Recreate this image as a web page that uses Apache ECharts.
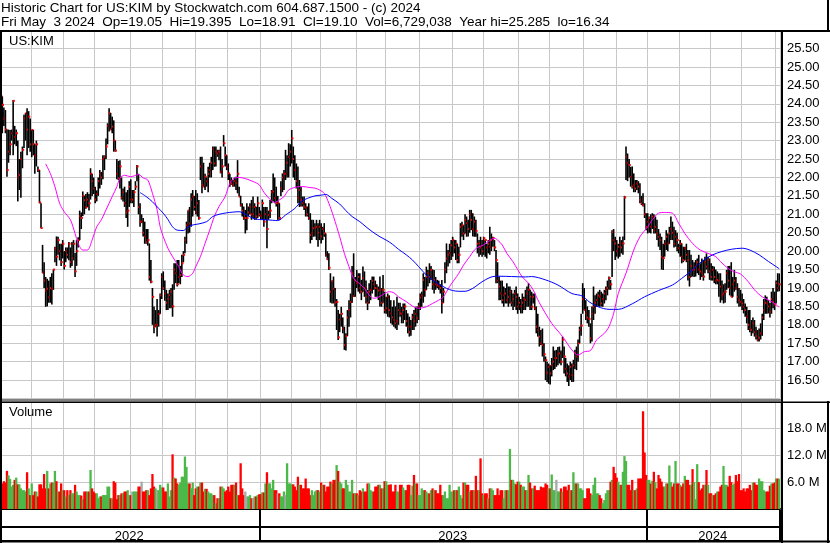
<!DOCTYPE html>
<html>
<head>
<meta charset="utf-8">
<script src="https://cdn.jsdelivr.net/npm/echarts@6/dist/echarts.min.js"></script>
<style>
  html, body { margin: 0; padding: 0; background: #fff; }
  #chart { width: 830px; height: 543px; }
</style>
</head>
<body>
<div id="chart"></div>
<script>
// trading months shown and number of sessions in each
const monthKeys = ["2022-05","2022-06","2022-07","2022-08","2022-09","2022-10","2022-11","2022-12",
  "2023-01","2023-02","2023-03","2023-04","2023-05","2023-06","2023-07","2023-08","2023-09","2023-10","2023-11","2023-12",
  "2024-01","2024-02","2024-03","2024-04","2024-05"];
const monthDays = [20,21,20,23,21,21,21,21, 20,19,23,19,22,21,20,23,20,22,21,20, 21,20,20,22,3];

const high = [
  24.28,24.2,23.9,23.83,23.3,23.3,23.29,23.3,24.1,23.4,
  23.3,23.0,22.5,22.7,22.84,23.7,23.75,23.88,23.8,23.6,
  23.3,23.29,22.9,23.0,22.3,22.2,21.3,20.17,19.7,19.3,
  19.25,19.2,19.3,19.4,19.5,20.12,20.4,20.39,20.2,20.2,
  20.3,20.0,20.1,20.1,20.25,20.1,20.25,20.3,19.95,20.3,
  20.38,21.1,21.05,21.62,21.5,21.55,21.6,21.55,22.25,22.1,
  22.0,21.75,21.65,22.0,22.2,22.15,22.6,22.6,23.06,23.47,
  23.88,23.75,23.65,23.55,23.0,22.5,22.45,22.47,22.0,21.7,
  21.75,21.6,21.66,21.9,21.95,21.66,21.66,21.9,22.34,22.1,
  21.3,21.0,20.9,20.8,20.6,20.6,20.21,19.76,19.0,18.5,
  18.4,18.7,18.4,18.85,19.4,19.45,19.2,18.95,18.85,18.95,
  19.0,19.1,19.67,19.67,19.76,19.76,19.6,19.9,20.0,20.39,
  20.8,21.1,21.2,21.57,21.66,21.5,21.66,21.57,21.39,22.56,
  22.56,22.4,22.1,22.0,22.29,22.4,22.56,22.84,22.84,22.84,
  22.75,22.75,22.84,22.5,23.15,22.84,22.6,22.38,22.1,22.0,
  21.93,22.0,22.02,22.47,21.75,21.5,21.3,21.21,21.12,21.3,
  21.21,21.3,21.39,21.48,21.3,21.2,21.48,21.2,21.1,21.4,
  21.2,21.2,21.2,21.1,21.39,21.66,22.11,22.0,21.75,21.5,
  21.3,21.9,22.11,22.2,22.75,22.6,22.93,22.9,23.29,22.84,
  22.6,22.38,22.3,21.93,21.75,21.48,21.48,21.3,21.21,21.3,
  21.03,20.85,20.85,20.76,20.85,20.76,20.85,20.76,20.66,20.76,
  20.48,20.0,19.94,19.4,19.2,19.31,19.0,18.7,18.4,18.3,
  18.49,18.2,17.95,17.77,18.4,18.67,18.85,19.6,19.94,19.3,
  19.49,19.4,19.4,19.22,19.58,19.45,19.2,18.95,19.13,19.22,
  19.31,19.31,19.2,19.1,19.04,19.31,19.0,19.35,18.9,18.76,
  18.85,18.8,18.67,18.49,18.67,18.5,18.76,18.6,18.6,18.49,
  18.58,18.58,18.4,18.31,18.22,18.13,18.3,18.4,18.49,18.5,
  18.6,18.85,18.9,19.4,19.3,19.58,19.49,19.67,19.6,19.5,
  19.49,19.3,19.22,19.2,19.1,19.22,19.0,19.7,20.21,20.03,
  20.2,20.3,20.39,20.3,20.3,20.2,20.12,20.76,20.8,20.7,
  21.0,20.94,20.85,21.12,21.12,21.03,20.94,20.85,20.48,20.3,
  20.39,20.3,20.39,20.3,20.2,20.3,20.66,20.48,20.39,20.3,
  20.03,19.7,19.31,19.2,19.2,19.04,19.0,19.13,19.04,19.04,
  18.95,18.85,18.95,19.04,18.85,18.76,18.7,18.85,18.76,18.95,
  19.04,19.13,18.95,18.9,18.85,18.85,18.5,18.3,17.95,17.86,
  17.9,17.5,17.14,17.0,16.95,16.9,17.1,17.41,17.3,17.32,
  17.4,17.41,17.3,17.68,17.41,17.1,16.95,16.9,17.0,16.95,
  17.05,17.32,17.41,17.6,17.95,18.3,19.13,19.0,18.67,18.5,
  18.4,18.04,18.5,19.04,18.8,18.85,18.9,18.95,18.9,18.85,
  18.95,19.04,19.2,19.31,19.22,20.57,20.6,20.39,20.3,20.2,
  20.39,20.3,20.4,21.5,22.84,22.65,22.5,22.29,22.3,22.11,
  21.93,21.93,21.9,21.84,21.5,21.57,21.3,21.03,21.03,20.94,
  21.0,21.03,21.0,20.94,20.85,20.6,20.48,20.39,20.2,20.3,
  20.57,20.48,20.66,20.94,20.8,20.66,20.57,20.5,20.2,20.3,
  20.21,20.12,20.12,20.2,20.03,20.03,19.9,19.76,19.7,19.76,
  19.8,19.9,19.67,19.8,19.76,19.85,19.94,19.85,19.8,19.67,
  19.6,19.58,19.5,19.45,19.4,19.4,19.2,19.1,19.13,19.49,
  19.6,19.6,19.7,19.3,19.49,19.3,19.13,19.0,18.95,18.85,
  18.7,18.58,18.49,18.4,18.4,18.13,18.2,18.13,17.95,17.86,
  17.9,18.04,18.3,18.7,18.8,18.76,18.67,18.6,18.9,19.0,
  18.9,19.2,19.4,19.395
];
const low = [
  22.74,23.2,23.4,23.2,22.02,22.4,22.6,23.0,22.6,22.9,
  22.85,21.35,21.66,21.45,22.25,22.8,23.0,22.6,22.8,22.7,
  22.55,22.6,22.1,22.3,22.15,21.3,20.62,19.4,19.0,18.49,
  18.5,18.6,18.6,18.55,18.95,19.7,19.6,19.9,19.75,19.6,
  19.8,19.5,19.7,19.8,19.75,19.55,19.6,19.75,19.3,19.6,
  20.1,20.3,20.6,20.95,21.0,21.15,21.2,21.1,21.4,21.5,
  21.55,21.3,21.35,21.5,21.7,21.8,21.95,22.2,22.5,22.9,
  23.25,23.3,23.2,22.7,22.7,21.95,21.93,21.7,21.4,21.35,
  21.2,20.9,20.66,21.2,21.3,21.3,21.2,21.66,21.9,21.0,
  20.66,20.76,20.4,20.2,20.2,20.15,19.2,19.13,18.0,17.77,
  17.95,17.68,17.95,18.3,18.7,18.95,18.65,18.4,18.4,18.45,
  18.45,18.22,18.95,19.13,19.04,19.13,19.1,19.3,19.7,19.94,
  20.2,20.48,20.5,20.66,20.94,21.1,21.0,20.94,20.85,21.93,
  21.57,21.75,21.66,21.75,21.6,22.0,22.0,22.2,22.29,22.3,
  22.56,22.47,22.11,22.0,22.84,22.3,22.2,21.93,21.75,21.8,
  21.75,21.75,21.66,21.57,21.48,21.21,20.94,20.85,20.48,20.57,
  20.94,21.0,20.85,20.9,20.85,20.85,20.9,20.94,20.85,20.85,
  20.66,20.85,20.08,20.85,20.9,21.3,21.35,21.3,21.21,20.85,
  20.85,21.5,21.6,21.66,21.93,22.0,22.0,22.3,22.38,22.0,
  21.93,21.7,21.3,21.2,21.21,21.21,21.12,20.94,20.94,20.85,
  20.21,20.3,20.39,20.4,20.3,20.12,20.3,20.21,20.3,20.39,
  19.85,19.76,19.49,18.6,18.58,18.58,18.49,17.86,17.59,17.8,
  17.95,17.77,17.32,17.3,17.7,17.95,18.2,18.6,18.76,18.76,
  19.0,18.9,18.85,18.67,18.9,18.76,18.58,18.4,18.58,18.67,
  18.85,18.95,18.76,18.76,18.67,18.5,18.49,18.6,18.31,18.3,
  18.22,18.2,18.04,18.0,17.95,17.9,17.86,18.0,18.22,18.04,
  18.04,18.13,17.95,17.77,17.68,17.7,17.86,17.86,17.95,18.04,
  18.13,18.4,18.49,18.6,18.76,18.95,19.04,19.13,19.22,18.95,
  18.85,18.95,19.0,18.95,18.85,18.31,18.6,19.13,19.4,19.58,
  19.67,19.76,19.85,19.94,19.76,19.67,19.67,20.1,20.39,20.3,
  20.48,20.39,20.4,20.5,20.57,20.4,20.39,20.39,19.94,19.85,
  19.9,19.85,19.9,19.85,19.8,19.94,19.9,20.0,20.12,20.0,
  19.13,19.13,18.67,18.67,18.58,18.49,18.58,18.58,18.49,18.58,
  18.5,18.4,18.49,18.4,18.3,18.4,18.31,18.31,18.4,18.4,
  18.49,18.49,18.4,18.4,18.58,18.4,17.77,17.68,17.41,17.45,
  17.14,17.0,16.5,16.45,16.4,16.38,16.6,16.77,16.8,16.86,
  16.9,16.95,16.9,17.1,16.68,16.6,16.45,16.34,16.5,16.45,
  16.45,16.8,16.77,17.0,17.5,17.7,18.3,18.4,18.13,18.04,
  17.95,17.5,17.55,18.13,18.3,18.49,18.5,18.49,18.5,18.49,
  18.58,18.67,18.8,18.95,18.95,19.3,20.0,19.76,19.85,19.8,
  19.85,19.94,19.9,20.3,21.93,21.9,22.0,21.75,21.7,21.6,
  21.6,21.66,21.57,21.3,21.25,21.21,20.9,20.57,20.48,20.5,
  20.48,20.6,20.48,20.48,20.3,20.12,20.03,19.5,19.49,19.85,
  20.03,20.0,20.2,20.3,20.3,20.1,20.12,20.0,19.94,19.85,
  19.67,19.7,19.76,19.7,19.2,19.04,19.3,19.31,19.3,19.31,
  19.4,19.35,19.22,19.3,19.2,19.4,19.5,19.4,19.22,19.2,
  19.2,19.13,19.1,19.1,18.76,18.6,18.67,18.58,18.6,18.95,
  19.0,18.8,18.76,18.76,18.9,18.95,18.58,18.49,18.5,18.4,
  18.31,18.22,18.04,17.86,17.8,17.7,17.77,17.68,17.6,17.55,
  17.55,17.6,17.7,18.13,18.3,18.3,18.31,18.2,18.3,18.45,
  18.4,18.58,18.9,18.91
];
const close = [
  24.2,23.97,23.6,23.3,22.2,22.7,22.9,23.2,24.08,23.1,
  23.2,22.0,22.07,22.5,22.75,23.6,23.74,23.3,23.65,22.9,
  23.29,22.9,22.6,22.9,22.2,21.32,20.63,19.42,19.2,18.93,
  18.98,18.75,19.0,18.98,19.5,20.07,19.85,20.3,20.0,19.7,
  20.2,19.6,20.0,19.9,20.2,19.7,19.8,20.2,19.45,20.0,
  20.3,20.95,20.9,21.5,21.38,21.2,21.4,21.3,22.1,21.9,
  21.7,21.4,21.55,21.9,22.1,22.0,22.5,22.56,22.84,23.4,
  23.74,23.3,23.38,23.0,22.73,22.1,21.98,22.3,21.45,21.6,
  21.3,21.05,21.1,21.75,21.4,21.4,21.6,21.75,22.3,21.2,
  20.8,20.8,20.5,20.4,20.24,20.3,19.3,19.17,18.76,17.95,
  18.0,18.0,18.3,18.8,19.3,19.0,18.85,18.6,18.7,18.8,
  18.9,18.5,19.5,19.4,19.1,19.3,19.35,19.67,19.9,20.3,
  20.7,21.1,20.75,21.4,21.48,21.2,21.05,21.3,20.9,22.3,
  21.8,21.75,22.02,21.9,22.1,22.2,22.4,22.78,22.38,22.7,
  22.65,22.7,22.15,22.3,22.93,22.6,22.3,22.11,21.9,21.84,
  21.8,21.9,21.85,22.1,21.48,21.25,21.1,20.9,20.9,20.9,
  21.05,21.2,21.0,21.0,21.2,20.94,21.3,21.0,20.96,21.3,
  20.8,21.0,20.6,20.98,21.1,21.6,21.62,21.44,21.3,21.3,
  20.9,21.7,22.0,22.1,22.1,22.4,22.56,22.7,23.06,22.5,
  22.2,21.9,21.45,21.66,21.39,21.3,21.21,21.18,21.0,20.9,
  20.44,20.5,20.62,20.64,20.66,20.5,20.66,20.4,20.6,20.48,
  19.9,19.78,19.55,18.9,19.18,18.98,18.6,18.62,17.66,18.14,
  18.3,17.9,17.45,17.7,18.2,18.4,18.62,19.4,18.78,19.2,
  19.13,19.3,19.0,18.9,19.27,19.0,18.76,18.6,18.9,18.95,
  19.2,19.1,19.0,18.99,18.93,18.95,18.6,18.95,18.4,18.45,
  18.76,18.4,18.31,18.2,18.13,18.04,18.1,18.4,18.31,18.3,
  18.4,18.5,18.1,17.95,17.8,17.95,18.2,18.1,18.3,18.18,
  18.5,18.74,18.8,19.22,18.95,19.31,19.4,19.3,19.49,19.1,
  19.22,19.1,19.07,19.04,19.0,18.6,18.9,19.5,19.8,19.9,
  19.95,20.16,20.3,20.1,20.2,19.76,19.9,20.66,20.7,20.48,
  20.85,20.76,20.6,21.0,20.85,20.6,20.8,20.55,20.2,20.21,
  20.1,20.0,20.35,20.3,20.1,20.2,20.12,20.3,20.35,20.1,
  19.76,19.2,19.04,18.85,18.67,18.8,18.85,18.67,18.76,18.9,
  18.6,18.7,18.85,18.76,18.5,18.6,18.5,18.6,18.7,18.67,
  18.85,18.95,18.76,18.49,18.76,18.45,17.95,17.86,17.68,17.5,
  17.45,17.2,17.04,16.7,16.86,16.68,16.9,17.0,17.1,17.1,
  17.2,17.23,17.0,17.6,17.14,16.8,16.68,16.6,16.86,16.64,
  16.9,17.23,17.14,17.5,17.86,17.98,18.7,18.4,18.31,18.2,
  18.16,17.63,18.3,18.49,18.6,18.67,18.8,18.76,18.58,18.7,
  18.85,18.95,19.0,19.27,19.1,20.52,20.3,20.21,20.0,20.12,
  20.21,20.1,20.21,21.46,22.56,22.4,22.34,22.02,21.75,21.8,
  21.7,21.84,21.75,21.39,21.3,21.25,21.0,20.66,20.8,20.9,
  20.66,20.94,20.57,20.66,20.48,20.39,20.3,19.85,19.81,20.2,
  20.39,20.21,20.48,20.6,20.5,20.2,20.39,20.3,20.08,20.2,
  19.85,19.76,20.08,19.9,19.76,19.3,19.6,19.49,19.5,19.58,
  19.7,19.5,19.45,19.4,19.31,19.7,19.58,19.76,19.45,19.3,
  19.49,19.3,19.2,19.22,19.2,19.04,18.8,18.85,18.9,19.4,
  19.2,19.0,18.76,19.1,19.2,19.0,18.76,18.67,18.62,18.58,
  18.49,18.4,18.22,18.0,17.9,17.86,18.04,17.8,17.7,17.59,
  17.65,17.77,18.2,18.4,18.6,18.58,18.5,18.35,18.7,18.62,
  18.55,19.13,19.0,19.10
];
// volume in millions of shares
const volume = [
  5.7,5.7,6.2,5.9,8.5,7.5,6.7,5.0,5.4,6.5,
  7.0,5.5,5.5,4.6,4.2,4.2,3.9,8.2,4.6,3.1,
  5.7,3.1,3.9,3.9,2.8,5.5,5.5,4.6,7.8,4.6,
  8.5,4.6,5.7,5.9,5.9,8.5,6.2,3.9,3.9,5.7,
  4.2,4.2,2.8,4.2,3.1,4.2,3.5,3.5,5.4,3.9,
  3.1,3.1,3.0,2.2,3.9,3.9,3.9,3.9,8.7,4.6,
  3.9,3.5,3.5,2.4,2.8,2.8,3.1,3.1,3.1,5.0,
  5.0,2.4,2.4,6.2,5.9,2.2,3.1,3.1,3.5,3.5,
  3.9,3.9,4.2,3.1,3.1,3.9,3.9,3.9,3.9,5.0,
  5.0,6.1,3.9,3.9,4.2,4.2,3.1,4.6,7.8,5.0,
  4.6,4.2,4.2,5.4,4.8,4.8,3.9,3.9,5.7,2.8,
  4.2,12.2,7.0,6.8,5.7,5.4,5.9,7.2,7.2,11.7,
  9.4,5.7,5.7,4.6,5.9,3.1,4.6,5.0,5.0,5.9,
  5.9,3.9,4.5,4.5,3.9,3.5,3.5,3.1,3.1,1.3,
  2.4,2.4,5.0,5.0,4.6,3.9,4.2,5.0,3.9,5.4,
  5.4,5.4,5.9,3.1,3.1,10.2,4.6,3.1,3.9,2.8,
  2.8,3.1,2.4,2.4,2.8,2.8,3.1,3.3,3.3,3.7,
  3.7,5.7,8.2,5.7,5.7,4.6,6.5,4.2,4.2,3.5,
  3.5,2.8,2.8,3.9,3.1,10.2,5.7,5.7,5.5,5.5,
  5.0,4.2,7.2,5.4,5.4,4.6,4.6,6.8,4.6,4.6,
  3.1,4.2,3.1,3.9,4.2,4.2,3.9,5.9,5.4,5.4,
  3.9,5.0,5.0,6.1,5.7,6.5,6.5,9.8,8.5,6.1,
  5.7,4.6,4.6,6.5,5.4,3.9,3.9,6.5,3.5,3.5,
  3.5,3.1,4.2,3.9,4.6,3.9,3.9,5.7,5.7,4.2,
  3.9,3.9,5.0,5.0,5.4,5.4,4.6,4.6,6.2,6.2,
  5.4,5.4,5.5,3.9,3.9,5.4,3.9,3.9,5.4,5.4,
  4.8,4.2,4.2,5.4,5.4,3.1,5.2,7.6,5.7,5.7,
  3.1,3.1,4.6,4.2,4.2,3.9,3.5,3.5,4.2,4.6,
  4.2,4.2,3.5,3.5,5.4,3.1,3.1,3.9,2.4,2.4,
  5.4,3.9,3.9,4.2,4.2,4.2,5.0,3.1,2.4,5.9,
  5.9,5.4,5.4,3.9,4.2,4.2,4.2,7.4,4.2,4.2,
  11.3,3.5,3.1,3.5,3.5,2.4,4.6,4.6,4.2,3.1,
  3.1,4.6,3.1,4.2,4.2,2.4,4.2,4.2,4.2,13.4,
  6.5,6.5,5.7,5.5,6.1,6.1,5.4,5.0,5.0,4.2,
  4.2,7.6,5.9,4.6,4.6,5.2,4.2,4.2,4.2,5.0,
  4.8,4.8,5.7,5.4,4.6,4.6,7.7,4.2,4.2,6.5,
  3.9,3.9,4.6,3.9,5.0,5.0,4.2,5.4,4.2,4.2,
  8.2,5.7,5.7,5.7,4.6,4.6,4.2,2.4,2.4,4.6,
  4.6,3.5,3.1,5.4,7.0,3.5,3.5,3.1,2.4,1.3,
  2.0,3.5,4.2,4.2,6.1,6.5,9.4,8.0,7.0,6.1,
  5.4,5.4,8.3,11.8,10.7,5.4,5.4,4.2,6.5,4.2,
  4.2,4.6,6.8,6.8,6.8,21.8,12.6,7.6,6.5,6.5,
  5.7,6.3,8.3,6.0,4.6,7.6,6.8,6.1,5.0,5.0,
  5.7,5.7,9.7,6.0,5.0,5.7,10.7,5.7,5.7,5.4,
  5.0,5.7,7.4,6.5,6.5,5.4,5.4,8.9,6.0,2.2,
  10.0,6.0,4.2,4.6,5.4,5.4,8.7,5.4,3.5,3.5,
  3.1,3.1,3.5,3.9,3.9,5.0,5.4,9.6,5.4,5.4,
  5.0,7.4,6.0,5.4,5.7,7.6,6.2,7.8,4.2,4.2,
  4.6,3.9,4.6,4.6,5.4,4.2,5.9,5.9,5.4,5.4,
  6.8,6.2,6.2,4.2,3.9,3.9,3.9,5.2,5.7,5.7,
  5.9,6.8,6.8,6.73
];
// moving average lines: [session index, price]
const maShort = [[29,22.37],[32,22.11],[35,21.75],[38,21.3],[41,21.07],[45,20.85],[48,20.48],[50,20.21],[53,20.03],[56,20.03],
  [59,20.3],[62,20.66],[65,20.85],[68,21.12],[72,21.48],[75,21.75],[77,21.98],[80,22.06],[84,22.02],[89,22.08],
  [92,21.99],[95,21.93],[98,21.57],[101,21.12],[103,20.66],[105,20.39],[108,20.08],[111,19.85],[115,19.58],[118,19.35],
  [121,19.31],[124,19.4],[126,19.58],[129,19.85],[132,20.21],[135,20.57],[138,20.94],[141,21.21],[145,21.48],[148,21.84],
  [151,21.98],[154,22.0],[158,21.97],[163,21.89],[167,21.8],[170,21.6],[174,21.4],[177,21.32],[180,21.39],[183,21.48],
  [186,21.66],[190,21.73],[193,21.75],[196,21.75],[199,21.73],[203,21.71],[206,21.66],[209,21.57],[212,21.3],[215,20.94],
  [219,20.39],[222,19.94],[225,19.58],[228,19.26],[232,19.11],[235,18.99],[238,18.81],[241,18.72],[244,18.75],[248,18.85],
  [251,18.9],[254,18.87],[257,18.76],[262,18.63],[266,18.51],[270,18.45],[275,18.49],[279,18.58],[283,18.67],[286,18.76],
  [290,19.04],[293,19.22],[296,19.4],[299,19.62],[303,19.85],[306,20.03],[309,20.12],[312,20.17],[315,20.26],[319,20.35],
  [321,20.3],[324,20.17],[327,19.94],[331,19.71],[334,19.5],[337,19.3],[341,19.13],[344,18.95],[348,18.6],[356,18.04],
  [363,17.68],[369,17.32],[373,17.18],[377,17.27],[381,17.3],[385,17.59],[390,17.77],[393,17.95],[396,18.31],[399,18.85],
  [404,19.4],[409,20.03],[413,20.39],[418,20.66],[421,20.85],[425,21.03],[429,21.05],[434,21.03],[438,20.76],[442,20.48],
  [447,20.21],[452,20.03],[457,19.94],[462,19.85],[465,19.72],[470,19.53],[474,19.44],[478,19.38],[483,19.17],[487,18.95],
  [492,18.76],[498,18.63],[503,18.48]];
const maLong = [[90,21.59],[94,21.48],[98,21.34],[102,21.16],[105,21.03],[108,20.86],[111,20.66],[114,20.57],[118,20.56],[120,20.62],
  [123,20.7],[128,20.74],[133,20.8],[137,20.94],[141,21.0],[146,21.04],[150,21.06],[154,21.07],[159,20.98],[163,20.89],
  [167,20.86],[172,20.85],[179,20.83],[184,20.98],[190,21.16],[194,21.34],[198,21.43],[203,21.5],[207,21.52],[210,21.54],
  [214,21.43],[219,21.28],[223,21.1],[227,20.94],[232,20.8],[236,20.66],[240,20.53],[245,20.39],[249,20.3],[253,20.19],
  [257,20.05],[262,19.9],[266,19.76],[270,19.58],[275,19.35],[279,19.22],[283,19.11],[288,18.99],[292,18.93],[296,18.91],
  [300,18.91],[305,18.99],[309,19.11],[313,19.22],[318,19.31],[322,19.32],[330,19.31],[339,19.3],[343,19.31],[352,19.22],
  [360,19.08],[369,18.85],[376,18.78],[380,18.63],[386,18.49],[393,18.42],[399,18.42],[408,18.57],[416,18.76],[425,18.93],
  [434,19.08],[440,19.26],[447,19.49],[453,19.72],[460,19.9],[466,19.99],[472,20.05],[479,20.08],[484,20.03],[490,19.9],
  [496,19.72],[501,19.58],[503,19.52]];

const headerLine1 = "Historic Chart for US:KIM by Stockwatch.com 604.687.1500 - (c) 2024";
const headerLine2 = "Fri May  3 2024  Op=19.05  Hi=19.395  Lo=18.91  Cl=19.10  Vol=6,729,038  Year hi=25.285  lo=16.34";

// category list: one entry per session
const dates = [];
const monthStart = new Set();
const yearStart = new Set();
const yearMid = new Set();
monthKeys.forEach((m, k) => {
  if (k > 0) monthStart.add(dates.length);
  if (k > 0 && m.endsWith("-01")) yearStart.add(dates.length);
  for (let d = 0; d < monthDays[k]; d++) dates.push(m + "-" + (d + 1));
});
const bounds = [0, ...yearStart, dates.length];
for (let k = 0; k < bounds.length - 1; k++) yearMid.add(Math.floor((bounds[k] + bounds[k + 1] - 1) / 2));

const FONT = "Liberation Sans, Arial, sans-serif";
const GRID_LINE = "#c8c8c8";

const ohlc = dates.map((d, i) => [i, high[i], low[i], close[i]]);
const volData = volume.map((v, i) => {
  let c = "#4cb848";
  if (i > 0 && close[i] < close[i - 1]) c = "#ff0000";
  else if (i > 0 && close[i] === close[i - 1]) c = "#a8a8a8";
  return { value: v, itemStyle: { color: c } };
});

function renderBar(params, api) {
  const top = api.coord([api.value(0), api.value(1)]);
  const bottom = api.coord([api.value(0), api.value(2)]);
  const cl = api.coord([api.value(0), api.value(3)]);
  return {
    type: "group",
    children: [
      { type: "rect", shape: { x: top[0] - 0.8, y: top[1], width: 1.6, height: Math.max(bottom[1] - top[1], 1) }, style: { fill: "#000" } },
      { type: "rect", shape: { x: cl[0] - 0.3, y: cl[1] - 1, width: 2, height: 2 }, style: { fill: "#ff0000" } }
    ]
  };
}

const frame = (x, y, w, h) => ({ type: "rect", z: 100, silent: true, shape: { x, y, width: w, height: h }, style: { fill: "#000" } });

const chart = echarts.init(document.getElementById("chart"));
const option = {
  animation: false,
  backgroundColor: "#fff",
  title: [
    { text: headerLine1, left: 1, top: 1, padding: 0, textStyle: { fontFamily: FONT, fontSize: 13.5, fontWeight: "normal", color: "#000" } },
    { text: headerLine2, left: 1, top: 15, padding: 0, textStyle: { fontFamily: FONT, fontSize: 13.5, fontWeight: "normal", color: "#000" } },
    { text: "US:KIM", left: 9, top: 35, padding: 0, textStyle: { fontFamily: FONT, fontSize: 13, fontWeight: "normal", color: "#000" } },
    { text: "Volume", left: 9, top: 406, padding: 0, textStyle: { fontFamily: FONT, fontSize: 13, fontWeight: "normal", color: "#000" } }
  ],
  grid: [
    { left: 0, width: 780, top: 30.1, height: 368.4 },
    { left: 0, width: 780, top: 401.4, height: 107.6 }
  ],
  xAxis: [
    { type: "category", gridIndex: 0, data: dates, axisLine: { show: false }, axisTick: { show: false }, axisLabel: { show: false },
      splitLine: { show: true, interval: (i) => monthStart.has(i), lineStyle: { color: GRID_LINE, width: 1 } } },
    { type: "category", gridIndex: 1, data: dates, axisLine: { show: true, lineStyle: { color: "#000", width: 2 } }, axisTick: { show: false }, axisLabel: { show: false },
      splitLine: { show: true, interval: (i) => monthStart.has(i), lineStyle: { color: GRID_LINE, width: 1 } } },
    { type: "category", gridIndex: 1, data: dates, position: "bottom", offset: 18, axisLine: { show: true, lineStyle: { color: "#000", width: 2 } },
      axisTick: { show: false }, axisLabel: { show: false }, splitLine: { show: false } },
    { type: "category", gridIndex: 1, data: dates, position: "bottom", offset: 32, axisLine: { show: true, lineStyle: { color: "#000", width: 2 } },
      axisTick: { show: true, inside: true, length: 31, interval: (i) => yearStart.has(i), lineStyle: { color: "#000", width: 2 } },
      axisLabel: { show: true, inside: true, margin: -2, interval: (i) => yearMid.has(i), formatter: (v) => v.slice(0, 4),
        color: "#000", fontFamily: FONT, fontSize: 13 },
      splitLine: { show: false } }
  ],
  yAxis: [
    { type: "value", gridIndex: 0, position: "right", offset: 2, min: 16, max: 26, interval: 0.5,
      axisLine: { show: false }, axisTick: { show: false },
      axisLabel: { margin: 5, color: "#000", fontFamily: FONT, fontSize: 13, formatter: (v) => (v <= 16 || v >= 26 ? "" : v.toFixed(2)) },
      splitLine: { show: true, lineStyle: { color: GRID_LINE, width: 1 } } },
    { type: "value", gridIndex: 1, position: "right", offset: 2, min: 0, max: 24, interval: 6,
      axisLine: { show: false }, axisTick: { show: false },
      axisLabel: { margin: 5, color: "#000", fontFamily: FONT, fontSize: 13, formatter: (v) => (v <= 0 || v >= 24 ? "" : v.toFixed(1) + " M") },
      splitLine: { show: true, lineStyle: { color: GRID_LINE, width: 1 } } }
  ],
  series: [
    { type: "custom", xAxisIndex: 0, yAxisIndex: 0, renderItem: renderBar, data: ohlc, encode: { x: 0, y: [1, 2, 3] }, z: 2 },
    { type: "line", xAxisIndex: 0, yAxisIndex: 0, data: maShort, smooth: 0.3, showSymbol: false, lineStyle: { color: "#ff00ff", width: 1 }, z: 3 },
    { type: "line", xAxisIndex: 0, yAxisIndex: 0, data: maLong, smooth: 0.3, showSymbol: false, lineStyle: { color: "#0000ff", width: 1 }, z: 3 },
    { type: "bar", xAxisIndex: 1, yAxisIndex: 1, data: volData, barWidth: 2.3, z: 2 }
  ],
  graphic: [
    frame(0, 30, 830, 2),
    frame(827, 0, 2, 31),
    frame(0, 30, 2, 513),
    frame(781, 30, 2, 513),
    frame(0, 399.5, 783, 1),
    frame(0, 401.5, 830, 1.5),
    frame(827, 401, 2, 142),
    frame(0, 540.5, 830, 2)
  ]
};
chart.setOption(option);
</script>
</body>
</html>
